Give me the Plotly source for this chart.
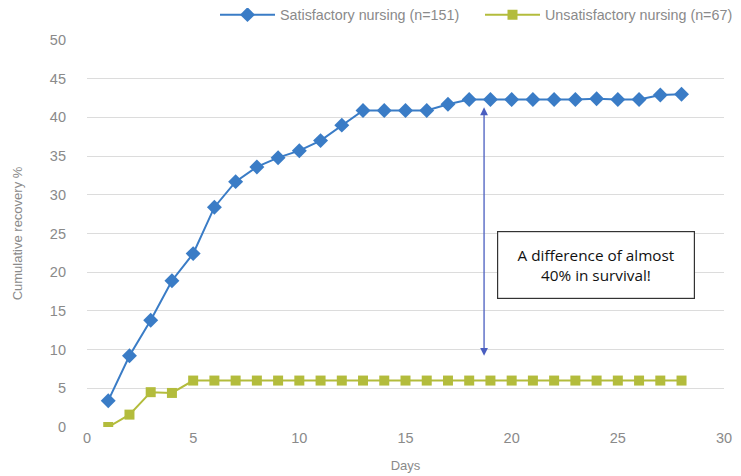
import plotly.graph_objects as go

days = list(range(1, 29))
satisfactory = [3.4, 9.2, 13.8, 18.9, 22.4, 28.4, 31.7, 33.6, 34.8, 35.7, 37.0, 39.0, 40.9, 40.9,
                40.9, 40.9, 41.7, 42.3, 42.3, 42.3, 42.3, 42.3, 42.3, 42.4, 42.3, 42.3, 42.9, 43.0]
unsatisfactory = [0.0, 1.6, 4.5, 4.4] + [6.0] * 24
sat_name = "Satisfactory nursing (n=151)"
unsat_name = "Unsatisfactory nursing (n=67)"
x_ticks = [0, 5, 10, 15, 20, 25, 30]
y_ticks = [0, 5, 10, 15, 20, 25, 30, 35, 40, 45, 50]
arrow_day = 18.7
arrow_top = 41.3
arrow_bottom = 9.0
note_text = "A difference of almost<br>40% in survival!"

BLUE = "#3A7CC6"
GREEN = "#B3BC3C"
GREY = "#8a8a8a"
FONT = "Liberation Sans"

# page body has an 8px margin, so the figure is drawn 8px smaller and offset
W, H = 733, 468
L, R, T, B = 79, 17, 32, 49
PW = W - L - R

fig = go.Figure()
fig.add_trace(go.Scatter(x=days, y=satisfactory, name=sat_name, mode="lines+markers",
                         line=dict(color=BLUE, width=2), legend="legend",
                         marker=dict(symbol="diamond", size=11.5, color=BLUE)))
fig.add_trace(go.Scatter(x=days, y=unsatisfactory, name=unsat_name, mode="lines+markers",
                         line=dict(color=GREEN, width=2), legend="legend2",
                         marker=dict(symbol="square", size=10, color=GREEN)))

fig.add_annotation(x=arrow_day, y=arrow_top, ax=arrow_day, ay=arrow_bottom,
                   xref="x", yref="y", axref="x", ayref="y", text="",
                   showarrow=True, arrowhead=2, startarrowhead=2, arrowside="end+start",
                   arrowsize=1.2, arrowwidth=1.3, arrowcolor="#4A5EC0")
fig.add_annotation(x=23.95, y=20.9, xref="x", yref="y", text=note_text, showarrow=False,
                   font=dict(family="Open Sans", size=15.3, color="#111"),
                   bordercolor="#333", borderwidth=1.2, bgcolor="white",
                   width=192, height=62, borderpad=2)

leg_common = dict(orientation="h", y=1.065, yanchor="middle", xanchor="left",
                  font=dict(size=14.3, color=GREY), bgcolor="rgba(0,0,0,0)", itemwidth=55)
fig.update_layout(
    width=W, height=H,
    margin=dict(l=L, r=R, t=T, b=B, autoexpand=False),
    paper_bgcolor="white", plot_bgcolor="white",
    font=dict(family=FONT, color=GREY, size=14),
    legend=dict(x=128 / PW, **leg_common),
    legend2=dict(x=393 / PW, **leg_common),
    showlegend=True,
)
fig.update_xaxes(range=[0, 30], tickvals=x_ticks, showgrid=False, zeroline=False,
                 showline=False, ticks="", tickfont=dict(size=14.5, color=GREY),
                 title=dict(text="Days", font=dict(size=13, color=GREY), standoff=16))
fig.update_yaxes(range=[0, 50], tickvals=y_ticks, showgrid=True, gridcolor="#dcdcdc",
                 gridwidth=1, zeroline=False, showline=False, ticks="",
                 tickfont=dict(size=14.5, color=GREY), ticklabelstandoff=20,
                 title=dict(text="Cumulative recovery %", font=dict(size=13, color=GREY), standoff=24))

fig.write_html("out.html")
